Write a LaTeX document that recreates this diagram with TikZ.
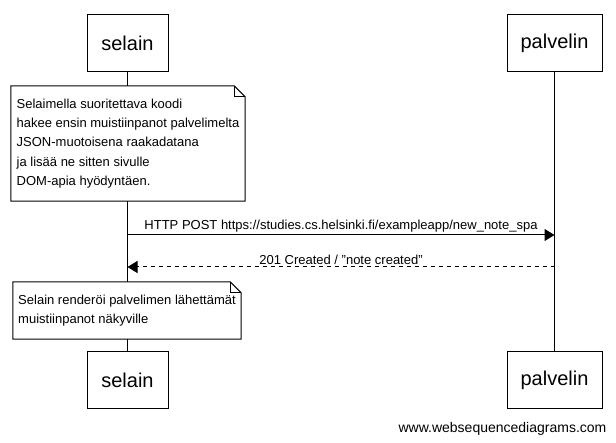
\documentclass[tikz,border=0pt]{standalone}
\usepackage{fontspec}
\setmainfont{Liberation Sans}
\usetikzlibrary{arrows.meta}
\tikzset{>={Triangle[length=10pt,width=12pt]}}
\newcommand\dogear[1]{%
  \draw[line width=1pt] (#1.north west) -- ([xshift=-11pt]#1.north east)
      -- ([yshift=-11pt]#1.north east) -- (#1.south east)
      -- (#1.south west) -- cycle;
  \draw[line width=0.6pt] ([xshift=-11pt]#1.north east)
      |- ([yshift=-11pt]#1.north east);
}

\begin{document}
\begin{tikzpicture}[x=1pt,y=-1pt,
actor/.style = {
    draw, line width=1pt,
    minimum height=57pt,
    font=\fontsize{20}{24}\selectfont,
                },
note/.style = {
    fill=white, align=left,
    inner sep=0pt,
    font=\fontsize{13}{19.2}\selectfont,
                },
msg/.style = {line width=1pt, ->},
lbl/.style = {font=\fontsize{13}{15}\selectfont, inner sep=1pt},
                    ]
\useasboundingbox (0,0) rectangle (616,443);
% actors, top and bottom
\node[actor, minimum width=81pt] (selainTop) at (127.5,43.5) {selain};
\node[actor, minimum width=95pt] (palvelinTop) at (554.5,43.5) {palvelin};
\node[actor, minimum width=81pt] (selainBot) at (127.5,380.5) {selain};
\node[actor, minimum width=95pt] (palvelinBot) at (554.5,380.5) {palvelin};
% lifelines
\draw[line width=1pt] (selainTop) -- (selainBot);
\draw[line width=1pt] (palvelinTop) -- (palvelinBot);
% notes
\node[note, minimum width=234pt, minimum height=115pt]
    (note1) at (128,143.5)
    {Selaimella suoritettava koodi\\
     hakee ensin muistiinpanot palvelimelta\\
     JSON-muotoisena raakadatana\\
     ja lisää ne sitten sivulle\\
     DOM-apia hyödyntäen.};
\dogear{note1}
\node[note, minimum width=228pt, minimum height=57pt]
    (note2) at (127,310.5)
    {Selain renderöi palvelimen lähettämät\\
     muistiinpanot näkyville};
\dogear{note2}
% messages
\coordinate (s1) at (127.5,235);
\coordinate (p1) at (554.5,235);
\coordinate (s2) at (127.5,267);
\coordinate (p2) at (554.5,267);
\draw[msg] (s1) -- node[lbl, above=1pt]
    {HTTP POST https://studies.cs.helsinki.fi/exampleapp/new\_note\_spa} (p1);
\draw[msg, dash pattern=on 4pt off 4pt] (p2) -- node[lbl, above=1pt]
    {201 Created / "note created"} (s2);
% footer
\node[font=\fontsize{14}{16}\selectfont] (footer) at (502.5,429)
    {www.websequencediagrams.com};
\end{tikzpicture}
\end{document}
